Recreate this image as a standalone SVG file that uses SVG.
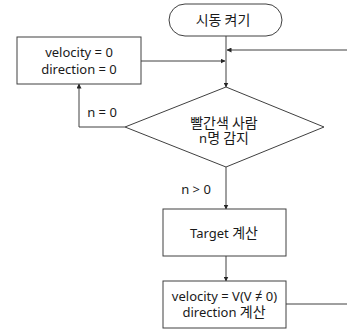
<svg xmlns="http://www.w3.org/2000/svg" width="347" height="329" viewBox="0 0 347 329">
<defs>
<style>
.box{fill:#fff;stroke:#404040;stroke-width:1}
.ln{fill:none;stroke:#404040;stroke-width:1}
text{font-family:"Noto Sans","Noto Sans CJK KR",sans-serif;font-size:13px;fill:#1a1a1a;text-anchor:middle}
.k{font-family:"Noto Sans CJK KR",sans-serif;font-size:14px}
</style>
<marker id="ah" markerWidth="5" markerHeight="5" refX="4.5" refY="2.5" orient="auto" markerUnits="userSpaceOnUse">
<path d="M0,0 L5,2.5 L0,5 Z" fill="#262626"/>
</marker>
</defs>
<g id="connectors">
<line class="ln" x1="226" y1="36" x2="226" y2="87" marker-end="url(#ah)"/>
<line class="ln" x1="347" y1="50" x2="227" y2="50" marker-end="url(#ah)"/>
<line class="ln" x1="141" y1="61" x2="225" y2="61" marker-end="url(#ah)"/>
<polyline class="ln" points="125,127 79,127 79,84" marker-end="url(#ah)"/>
<line class="ln" x1="226" y1="167" x2="226" y2="209" marker-end="url(#ah)"/>
<line class="ln" x1="226" y1="256" x2="226" y2="281" marker-end="url(#ah)"/>
<line class="ln" x1="286" y1="304" x2="347" y2="304"/>
<text x="102" y="117">n = 0</text>
<text x="196" y="194">n &gt; 0</text>
</g>
<g id="start">
<rect class="box" x="169" y="4" width="113" height="32" rx="16" ry="16"/>
<text x="223" y="25" class="k">시동 켜기</text>
</g>
<g id="reset">
<rect class="box" x="17" y="37" width="124" height="47"/>
<text x="79" y="57">velocity = 0<tspan x="79" y="73.5">direction = 0</tspan></text>
</g>
<g id="detect">
<polygon class="box" points="226,87 324,127 226,167 125,127"/>
<text x="224" y="127.5"><tspan class="k">빨간색 사람</tspan><tspan x="224" y="142.5">n</tspan><tspan class="k">명 감지</tspan></text>
</g>
<g id="target">
<rect class="box" x="163" y="209" width="123" height="47"/>
<text x="224" y="238">Target <tspan class="k">계산</tspan></text>
</g>
<g id="velocity">
<rect class="box" x="163" y="281" width="123" height="47"/>
<text x="224.5" y="300.5">velocity = V(V ≠ 0)<tspan x="224" y="317">direction </tspan><tspan class="k">계산</tspan></text>
</g>
</svg>
